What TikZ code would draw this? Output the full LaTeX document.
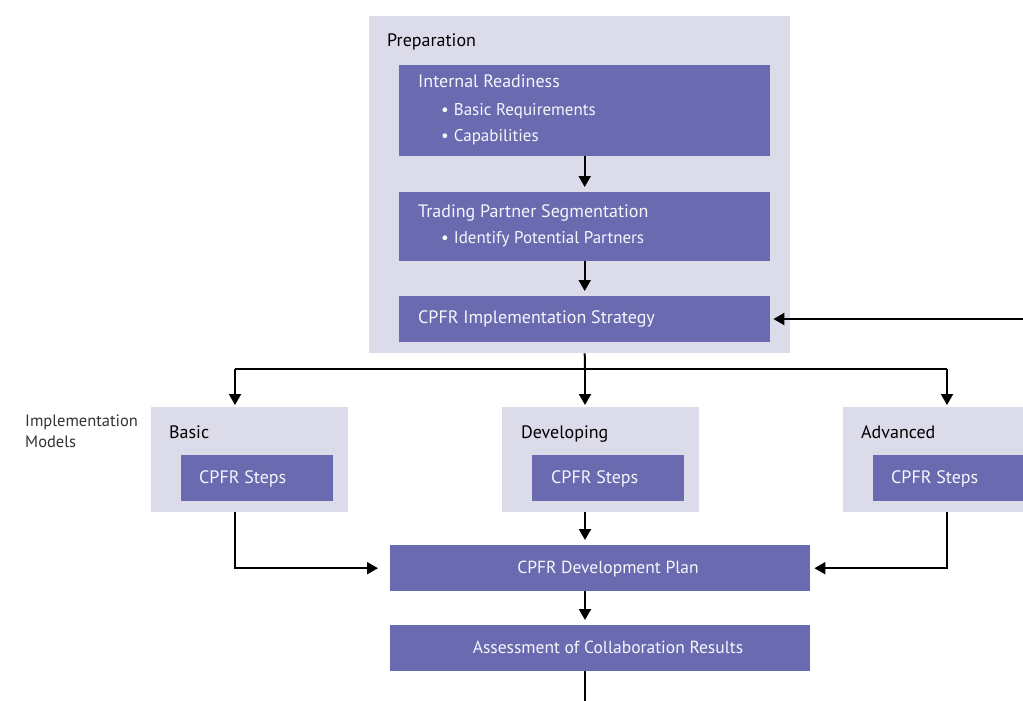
\documentclass[tikz,border=0pt]{standalone}
\usepackage{fontspec}
\setmainfont{PT Sans}
\usetikzlibrary{arrows.meta,positioning,calc}
\definecolor{lightbox}{RGB}{220,219,234}
\definecolor{darkbox}{RGB}{106,106,176}
\definecolor{boxtext}{RGB}{246,246,252}
\begin{document}
\begin{tikzpicture}[x=1pt,y=-1pt,
  panel/.style={fill=lightbox,draw=none,inner sep=0,anchor=north west},
  stepbox/.style={fill=darkbox,draw=none,inner sep=0,anchor=north west},
  title/.style={anchor=base west,inner sep=0,font=\fontsize{18}{21}\selectfont,text=black},
  wtext/.style={anchor=base west,inner sep=0,font=\fontsize{18}{21}\selectfont,text=boxtext},
  wsub/.style={anchor=base west,inner sep=0,font=\fontsize{17}{20}\selectfont,text=boxtext},
  ctext/.style={anchor=base,inner sep=0,font=\fontsize{17.5}{21}\selectfont,text=boxtext},
  side/.style={anchor=base west,inner sep=0,font=\fontsize{16.5}{21}\selectfont,text=black!80},
  arr/.style={line width=2pt,-{Triangle[width=12pt,length=11pt]}},
  plain/.style={line width=2pt}]
\useasboundingbox (0,0) rectangle (1023,701);

% Preparation phase
\node[panel,minimum width=421,minimum height=337] (prep) at (369,16) {};
\node[title] (preptitle) at (387,47) {Preparation};
\node[stepbox,minimum width=371,minimum height=91] (ir) at (399,65) {};
\node[wtext] (irtitle) at (418,88) {Internal Readiness};
\node[wsub] (ir1) at (441,115) {\textbullet\hspace{5pt}Basic Requirements};
\node[wsub] (ir2) at (441,141) {\textbullet\hspace{5pt}Capabilities};
\node[stepbox,minimum width=371,minimum height=69] (tps) at (399,192) {};
\node[wtext] (tpstitle) at (418,217) {Trading Partner Segmentation};
\node[wsub] (tps1) at (441,243) {\textbullet\hspace{5pt}Identify Potential Partners};
\node[stepbox,minimum width=371,minimum height=46] (cis) at (399,296) {};
\node[wtext] (cistitle) at (418,323) {CPFR Implementation Strategy};

% Implementation models
\node[side] (models1) at (25,426) {Implementation};
\node[side] (models2) at (25,447) {Models};

\node[panel,minimum width=197,minimum height=105] (basic) at (151,407) {};
\node[title] (basictitle) at (169,438) {Basic};
\node[stepbox,minimum width=152,minimum height=46] (basicsteps) at (181,455) {};
\node[wtext] (basicstepst) at (199,483) {CPFR Steps};

\node[panel,minimum width=197,minimum height=105] (dev) at (502,407) {};
\node[title] (devtitle) at (521,438) {Developing};
\node[stepbox,minimum width=152,minimum height=46] (devsteps) at (532,455) {};
\node[wtext] (devstepst) at (551,483) {CPFR Steps};

\node[panel,minimum width=180,minimum height=105] (adv) at (843,407) {};
\node[title] (advtitle) at (861,438) {Advanced};
\node[stepbox,minimum width=150,minimum height=46] (advsteps) at (873,455) {};
\node[wtext] (advstepst) at (891,483) {CPFR Steps};

% Plan and assessment
\node[stepbox,minimum width=420,minimum height=46] (plan) at (390,545) {};
\node[ctext] (plantext) at (608,573) {CPFR Development Plan};
\node[stepbox,minimum width=420,minimum height=46] (assess) at (390,625) {};
\node[ctext] (assesstext) at (608,653) {Assessment of Collaboration Results};

% Connector end points
\coordinate (feedback) at (1023,319);
\coordinate (split) at (585,369);
\coordinate (exit) at (585,701);
\coordinate (basicout) at (235,512);
\coordinate (advout) at (947,512);

% Arrows inside the preparation phase
\draw[arr,shorten >=5pt] (ir.south) -- (tps.north);
\draw[arr,shorten >=5pt] (tps.south) -- (cis.north);
\draw[arr,shorten >=3pt] (feedback) -- (cis.east |- feedback);

% Branching to the implementation models
\draw[plain] (cis.south |- prep.south) -- (split);
\draw[plain] (basicout |- split) -- (advout |- split);
\draw[arr,shorten >=2pt] (split) -- (split |- dev.north);
\draw[arr,shorten >=2pt] (basicout |- split) -- (basicout |- basic.north);
\draw[arr,shorten >=2pt] (advout |- split) -- (advout |- adv.north);

% Merging into the development plan
\draw[arr,shorten >=12pt] (basicout) |- (plan.west);
\draw[arr,shorten >=4pt] (advout) |- (plan.east);
\draw[arr,shorten >=5pt] (split |- dev.south) -- (split |- plan.north);
\draw[arr,shorten >=5pt] (split |- plan.south) -- (split |- assess.north);
\draw[plain] (split |- assess.south) -- (exit);
\end{tikzpicture}
\end{document}
